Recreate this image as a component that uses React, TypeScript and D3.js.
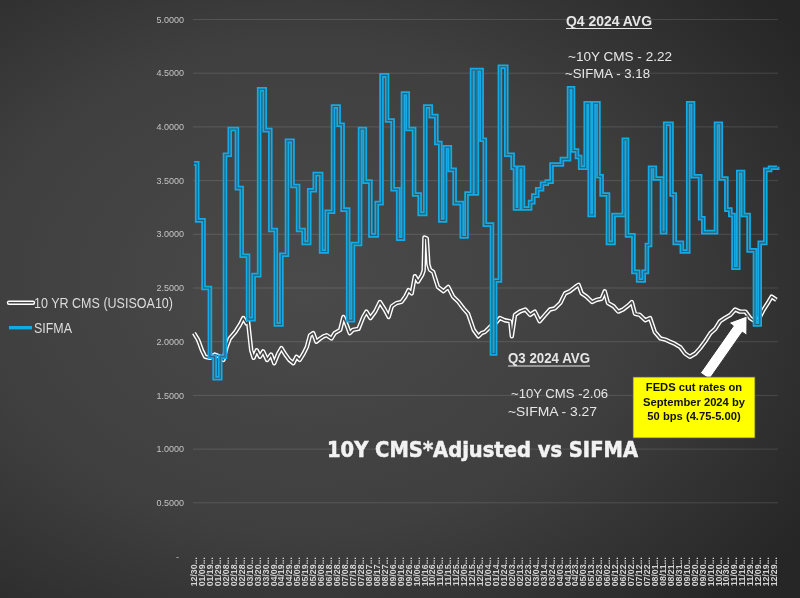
import React from "react";
import * as d3 from "d3";

// ---------- data ----------
const yTicks = [0, 0.5, 1, 1.5, 2, 2.5, 3, 3.5, 4, 4.5, 5];
const xTickLabels = [
  "12/30","01/09","01/19","01/29","02/08","02/18","02/28","03/10","03/20","03/30",
  "04/09","04/19","04/29","05/09","05/19","05/29","06/08","06/18","06/28","07/08",
  "07/18","07/28","08/07","08/17","08/27","09/06","09/16","09/26","10/06","10/16",
  "10/26","11/05","11/15","11/25","12/05","12/15","12/25",
  "01/04","01/14","01/24","02/03","02/13","02/23","03/04","03/14","03/24","04/03",
  "04/13","04/23","05/03","05/13","05/23","06/02","06/12","06/22","07/02","07/12",
  "07/22","08/01","08/11","08/21","08/31","09/10","09/20","09/30","10/10","10/20",
  "10/30","11/09","11/19","11/29","12/09","12/19","12/29",
];
const tickStepDays = 10;
const totalDays = 735; // days since 12/30/2022 covered by the plot

// SIFMA resets: days since 12/30/2022 and rate
const sifmaDays = [
  0,4,12,20,26,33,39,45,54,60,
  68,75,82,89,96,103,110,117,124,131,
  138,145,152,160,167,175,182,187,194,200,
  209,215,222,230,236,243,250,257,263,269,
  277,284,291,298,305,310,316,322,328,337,
  343,350,354,356,362,366,375,379,385,393,
  401,404,409,414,423,427,432,438,444,450,
  463,472,477,482,486,493,498,503,509,513,
  521,528,541,545,553,559,566,570,574,580,
  589,593,601,605,614,622,628,637,641,657,
  663,670,675,679,685,691,698,706,712,719,
  725,734,
];
const sifmaValues = [
  3.66,3.13,2.50,1.86,1.66,1.86,3.74,3.98,3.43,2.80,
  2.21,2.62,4.35,3.97,3.04,2.16,2.81,3.87,3.45,3.04,
  2.92,3.41,3.56,2.84,3.21,4.19,4.02,3.23,2.20,2.91,
  3.98,3.49,2.99,3.29,4.48,4.06,3.42,2.96,4.31,3.98,
  3.37,3.19,4.19,4.10,3.85,3.13,3.81,3.60,3.29,2.98,
  3.38,4.53,3.38,4.53,3.88,3.09,1.89,2.57,4.56,3.74,
  3.62,3.24,3.62,3.24,3.30,3.36,3.42,3.47,3.49,3.65,
  3.70,4.36,3.78,3.72,3.62,4.22,3.18,4.22,3.54,3.37,
  2.92,3.18,3.88,2.99,2.65,2.57,2.65,2.90,3.62,3.52,
  3.02,4.03,3.37,2.92,2.84,4.22,3.54,3.15,3.02,4.03,
  3.52,3.23,3.18,2.69,3.58,3.18,2.85,2.16,2.92,3.60,
  3.62,3.63,
];

// 10Y CMS (USISOA10)
const cmsDays = [
  0,5,10,14,20,26,33,37,41,45,52,58,62,66,68,72,75,79,83,87,
  92,97,101,106,110,115,120,125,129,133,138,142,146,150,154,159,163,167,173,177,
  184,188,192,196,200,207,213,217,222,228,234,240,245,249,255,261,266,270,274,278,
  282,287,289,290,293,295,297,301,307,314,320,326,333,339,345,352,358,362,366,373,
  379,385,391,398,400,404,410,417,423,429,435,442,448,454,461,467,473,480,484,488,
  494,501,507,513,517,521,528,534,540,547,551,555,561,568,574,580,587,593,599,605,
  612,618,624,631,637,643,650,656,662,668,675,681,687,694,700,706,710,717,723,727,
  733,
];
const cmsValues = [
  2.08,2.02,1.92,1.86,1.85,1.88,1.86,1.83,1.95,2.03,2.09,2.16,2.22,2.17,2.19,1.92,1.85,1.92,1.86,1.91,
  1.83,1.88,1.80,1.89,1.94,1.88,1.83,1.80,1.86,1.83,1.89,1.95,2.06,2.08,2.00,2.03,2.05,2.06,2.03,2.08,
  2.11,2.23,2.16,2.08,2.11,2.12,2.23,2.28,2.22,2.28,2.37,2.30,2.23,2.33,2.36,2.37,2.42,2.48,2.45,2.61,
  2.56,2.62,2.66,2.97,2.96,2.72,2.67,2.65,2.51,2.47,2.51,2.42,2.37,2.31,2.26,2.11,2.05,2.08,2.09,2.14,
  2.17,2.22,2.20,2.19,2.05,2.25,2.28,2.30,2.25,2.28,2.19,2.25,2.30,2.31,2.36,2.45,2.47,2.51,2.53,2.45,
  2.42,2.37,2.39,2.40,2.47,2.36,2.33,2.28,2.30,2.34,2.37,2.26,2.25,2.20,2.22,2.09,2.03,2.02,2.00,1.98,
  1.95,1.89,1.86,1.89,1.94,2.00,2.08,2.12,2.19,2.22,2.25,2.30,2.28,2.28,2.22,2.19,2.20,2.30,2.37,2.42,
  2.39,
];

const seriesNames = ["10 YR CMS (USISOA10)", "SIFMA"];
const title = "10Y CMS*Adjusted vs SIFMA";
const q4Lines = ["Q4  2024 AVG", "~10Y CMS -  2.22", "~SIFMA - 3.18"];
const q3Lines = ["Q3 2024 AVG", "~10Y CMS -2.06", "~SIFMA -  3.27"];
const fedLines = ["FEDS cut rates on", "September 2024 by", "50 bps (4.75-5.00)"];
// arrow (data space): from [day, value] to [day, value]
const arrowFrom = [643, 1.68];
const arrowTo = [696, 2.24];

// ---------- layout ----------
const W = 800;
const H = 598;
const x = d3.scaleLinear().domain([0, totalDays]).range([194, 778]);
const y = d3.scaleLinear().domain([0, 5]).range([556.5, 19.5]);

const BLUE = "#12abe6";
const FONT = "'Liberation Sans', Arial, sans-serif";

export default function App() {
  const sifma = sifmaDays.map((d, i) => [d, sifmaValues[i]] as [number, number]);
  const cms = cmsDays.map((d, i) => [d, cmsValues[i]] as [number, number]);
  const stepLine = d3
    .line<[number, number]>()
    .x((d) => x(d[0]))
    .y((d) => y(d[1]))
    .curve(d3.curveStepAfter);
  const lin = d3
    .line<[number, number]>()
    .x((d) => x(d[0]))
    .y((d) => y(d[1]));

  // arrow polygon
  const ax0 = x(arrowFrom[0]), ay0 = y(arrowFrom[1]);
  const ax1 = x(arrowTo[0]), ay1 = y(arrowTo[1]);
  const len = Math.hypot(ax1 - ax0, ay1 - ay0);
  const ux = (ax1 - ax0) / len, uy = (ay1 - ay0) / len;
  const px = -uy, py = ux;
  const sw = 5.5, hw = 11, hl = 16;
  const bx = ax1 - ux * hl, by = ay1 - uy * hl;
  const arrowPts = [
    [ax0 + px * sw, ay0 + py * sw],
    [bx + px * sw, by + py * sw],
    [bx + px * hw, by + py * hw],
    [ax1, ay1],
    [bx - px * hw, by - py * hw],
    [bx - px * sw, by - py * sw],
    [ax0 - px * sw, ay0 - py * sw],
  ]
    .map((p) => p.join(","))
    .join(" ");

  return (
    <svg
      width={W}
      height={H}
      style={{ position: "fixed", left: 0, top: 0, display: "block" }}
      fontFamily={FONT}
    >
      <defs>
        <radialGradient id="bg" cx="38%" cy="48%" r="75%">
          <stop offset="0%" stopColor="#4a4a4a" />
          <stop offset="55%" stopColor="#3f3f3f" />
          <stop offset="100%" stopColor="#262626" />
        </radialGradient>
      </defs>
      <rect x={0} y={0} width={W} height={H} fill="url(#bg)" />

      {/* gridlines */}
      {yTicks.slice(1).map((t) => (
        <line
          key={t}
          x1={193}
          x2={778}
          y1={y(t)}
          y2={y(t)}
          stroke="#ffffff"
          strokeOpacity={0.13}
          strokeWidth={1}
        />
      ))}

      {/* y labels */}
      {yTicks.map((t) => (
        <text
          key={t}
          x={t === 0 ? 179 : 184}
          y={y(t)}
          dy="0.35em"
          textAnchor="end"
          fontSize={9}
          fill="#c4c4c4"
        >
          {t === 0 ? "-" : d3.format(".4f")(t)}
        </text>
      ))}

      {/* x labels */}
      {xTickLabels.map((l, i) => (
        <text
          key={i}
          transform={`translate(${x(i * tickStepDays)},557) rotate(-90)`}
          dy="0.35em"
          textAnchor="end"
          fontSize={8.8}
          fontWeight="bold"
          fill="#d4d4d4"
        >
          {l + "..."}
        </text>
      ))}

      {/* CMS line (double) */}
      <path d={lin(cms) || ""} fill="none" stroke="#ffffff" strokeWidth={4.4} strokeLinejoin="round" />
      <path d={lin(cms) || ""} fill="none" stroke="#454545" strokeWidth={1.6} strokeLinejoin="round" />

      {/* SIFMA line (double) */}
      <path d={stepLine(sifma) || ""} fill="none" stroke={BLUE} strokeWidth={4.6} />
      <path d={stepLine(sifma) || ""} fill="none" stroke="#2d5a6c" strokeWidth={1.1} />

      {/* legend */}
      <line x1={9} x2={33} y1={302.7} y2={302.7} stroke="#fff" strokeWidth={4.4} strokeLinecap="round" />
      <line x1={9} x2={33} y1={302.7} y2={302.7} stroke="#454545" strokeWidth={1.6} strokeLinecap="round" />
      <text x={34} y={308} fontSize={15} fill="#dcdcdc" textLength={139} lengthAdjust="spacingAndGlyphs">
        {seriesNames[0]}
      </text>
      <line x1={9} x2={32} y1={327.7} y2={327.7} stroke={BLUE} strokeWidth={3.4} />
      <text x={34} y={333} fontSize={15} fill="#dcdcdc" textLength={38} lengthAdjust="spacingAndGlyphs">
        {seriesNames[1]}
      </text>

      {/* title */}
      <text
        x={327}
        y={457}
        fontSize={22}
        fontWeight="bold"
        fontFamily="'DejaVu Sans', sans-serif"
        fill="#f2f2f2"
        stroke="#f2f2f2"
        strokeWidth={0.6}
        textLength={311}
        lengthAdjust="spacingAndGlyphs"
      >
        {title}
      </text>

      {/* Q4 annotation */}
      <text x={566} y={26} fontSize={14} fontWeight="bold" fill="#e6e6e6" textLength={86} lengthAdjust="spacingAndGlyphs">
        {q4Lines[0]}
      </text>
      <line x1={566} x2={652} y1={28.5} y2={28.5} stroke="#e6e6e6" strokeWidth={1} />
      <text x={568} y={61} fontSize={13.5} fill="#e6e6e6" textLength={104} lengthAdjust="spacingAndGlyphs">
        {q4Lines[1]}
      </text>
      <text x={565} y={78} fontSize={13.5} fill="#e6e6e6" textLength={85} lengthAdjust="spacingAndGlyphs">
        {q4Lines[2]}
      </text>

      {/* Q3 annotation */}
      <text x={508} y={363} fontSize={14} fontWeight="bold" fill="#e6e6e6" textLength={82} lengthAdjust="spacingAndGlyphs">
        {q3Lines[0]}
      </text>
      <line x1={508} x2={590} y1={366} y2={366} stroke="#e6e6e6" strokeWidth={1} />
      <text x={511} y={398} fontSize={13.5} fill="#e6e6e6" textLength={97} lengthAdjust="spacingAndGlyphs">
        {q3Lines[1]}
      </text>
      <text x={508} y={416} fontSize={13.5} fill="#e6e6e6" textLength={89} lengthAdjust="spacingAndGlyphs">
        {q3Lines[2]}
      </text>

      {/* arrow */}
      <polygon points={arrowPts} fill="#ffffff" stroke="#333" strokeWidth={1} strokeLinejoin="miter" />

      {/* fed box */}
      <rect x={633} y={377} width={122} height={61} fill="#ffff00" stroke="#555" strokeWidth={0.8} />
      {fedLines.map((l, i) => (
        <text
          key={i}
          x={694}
          y={391 + i * 14.5}
          textAnchor="middle"
          fontSize={11.2}
          fontWeight="bold"
          fill="#111"
        >
          {l}
        </text>
      ))}
    </svg>
  );
}
